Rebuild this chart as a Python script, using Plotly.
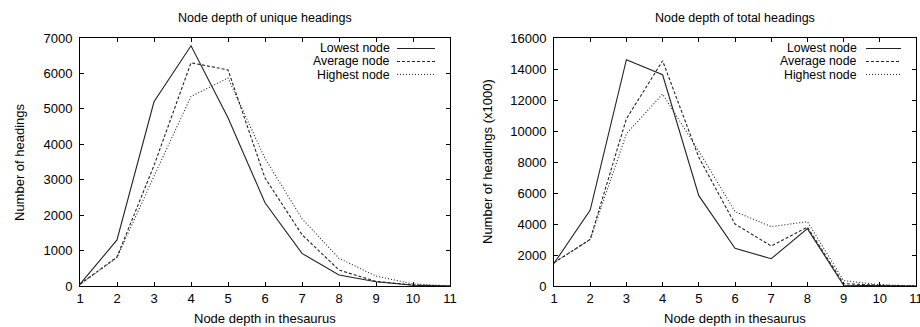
import plotly.graph_objects as go

depth = [1, 2, 3, 4, 5, 6, 7, 8, 9, 10, 11]

uniq_lowest = [50, 1300, 5200, 6780, 4750, 2350, 920, 310, 120, 20, 0]
uniq_average = [50, 820, 3400, 6300, 6100, 3050, 1450, 450, 130, 30, 0]
uniq_highest = [50, 800, 3100, 5350, 5870, 3600, 1900, 780, 280, 60, 0]

tot_lowest = [1460, 4900, 14600, 13630, 5830, 2430, 1760, 3700, 50, 20, 0]
tot_average = [1500, 3010, 10790, 14530, 8300, 4000, 2580, 3800, 150, 50, 0]
tot_highest = [1500, 3000, 9820, 12380, 8700, 4800, 3830, 4150, 350, 80, 0]

series_names = ["Lowest node", "Average node", "Highest node"]
dashes = ["solid", "3px,2px", "1px,2px"]
line_color = "#222222"

titles = ["Node depth of unique headings", "Node depth of total headings"]
ytitles = ["Number of headings", "Number of headings (x1000)"]
xtitle = "Node depth in thesaurus"

FONT = "Liberation Sans, Arial, Helvetica, sans-serif"
FS = 13
W, H = 920, 327

fig = go.Figure()

panels = [
    dict(data=[uniq_lowest, uniq_average, uniq_highest], xa="x", ya="y",
         xdom=(80 / W, 450 / W), yr=(0, 7000), dt=1000),
    dict(data=[tot_lowest, tot_average, tot_highest], xa="x2", ya="y2",
         xdom=(554 / W, 916 / W), yr=(0, 16000), dt=2000),
]
ydom = ((327 - 286) / H, (327 - 38) / H)

for p in panels:
    for vals, name, d in zip(p["data"], series_names, dashes):
        fig.add_trace(go.Scatter(x=depth, y=vals, mode="lines", name=name,
                                 xaxis=p["xa"], yaxis=p["ya"], showlegend=False,
                                 line=dict(color=line_color, width=1.1, dash=d)))

axis_common = dict(showline=True, linecolor="black", linewidth=1, mirror="allticks",
                   ticks="inside", ticklen=4, tickcolor="black", showgrid=False,
                   zeroline=False, tickformat="d",
                   tickfont=dict(family=FONT, size=FS, color="black"))

layout = dict(
    width=W, height=H, margin=dict(l=0, r=0, t=0, b=0),
    paper_bgcolor="white", plot_bgcolor="white", showlegend=False,
    font=dict(family=FONT, color="black"),
)
for i, p in enumerate(panels):
    sx = "" if i == 0 else "2"
    layout["xaxis" + sx] = dict(domain=list(p["xdom"]), range=[1, 11], dtick=1, tick0=1,
                                anchor="y" + sx, automargin=False,
                                ticklabeloverflow="allow", **axis_common)
    layout["yaxis" + sx] = dict(domain=list(ydom), range=list(p["yr"]), dtick=p["dt"],
                                anchor="x" + sx, automargin=False, ticklabelstandoff=4,
                                **axis_common)
fig.update_layout(**layout)

ann = []
shapes = []
for i, p in enumerate(panels):
    x0, x1 = p["xdom"]
    cx = (x0 + x1) / 2
    ann.append(dict(text=titles[i], x=cx, y=1 - 18 / H, xref="paper", yref="paper",
                    showarrow=False, xanchor="center", yanchor="middle",
                    font=dict(family=FONT, size=12.5)))
    ann.append(dict(text=xtitle, x=cx, y=1 - 318 / H, xref="paper", yref="paper",
                    showarrow=False, xanchor="center", yanchor="middle",
                    font=dict(family=FONT, size=FS)))
    ytx = 19 if i == 0 else 487
    ann.append(dict(text=ytitles[i], x=ytx / W, y=(ydom[0] + ydom[1]) / 2, xref="paper",
                    yref="paper", showarrow=False, textangle=-90, xanchor="center",
                    yanchor="middle", font=dict(family=FONT, size=FS)))
    # gnuplot-style key: text right-aligned, sample to the right
    if i == 0:
        tx, s0, s1 = 391, 397, 435
    else:
        tx, s0, s1 = 858, 866, 901
    for j, (name, d) in enumerate(zip(series_names, dashes)):
        yy = 1 - (48.5 + 13 * j) / H
        ann.append(dict(text=name, x=tx / W, y=yy, xref="paper", yref="paper",
                        showarrow=False, xanchor="right", yanchor="middle", borderpad=0,
                        font=dict(family=FONT, size=12.3)))
        shapes.append(dict(type="line", xref="paper", yref="paper", x0=s0 / W, x1=s1 / W,
                           y0=yy, y1=yy, line=dict(color=line_color, width=1.1, dash=d)))

fig.update_layout(annotations=ann, shapes=shapes)
fig.write_html("out.html", config={"displayModeBar": False},
               post_script="document.body.style.margin='0';document.body.style.overflow='hidden';")
